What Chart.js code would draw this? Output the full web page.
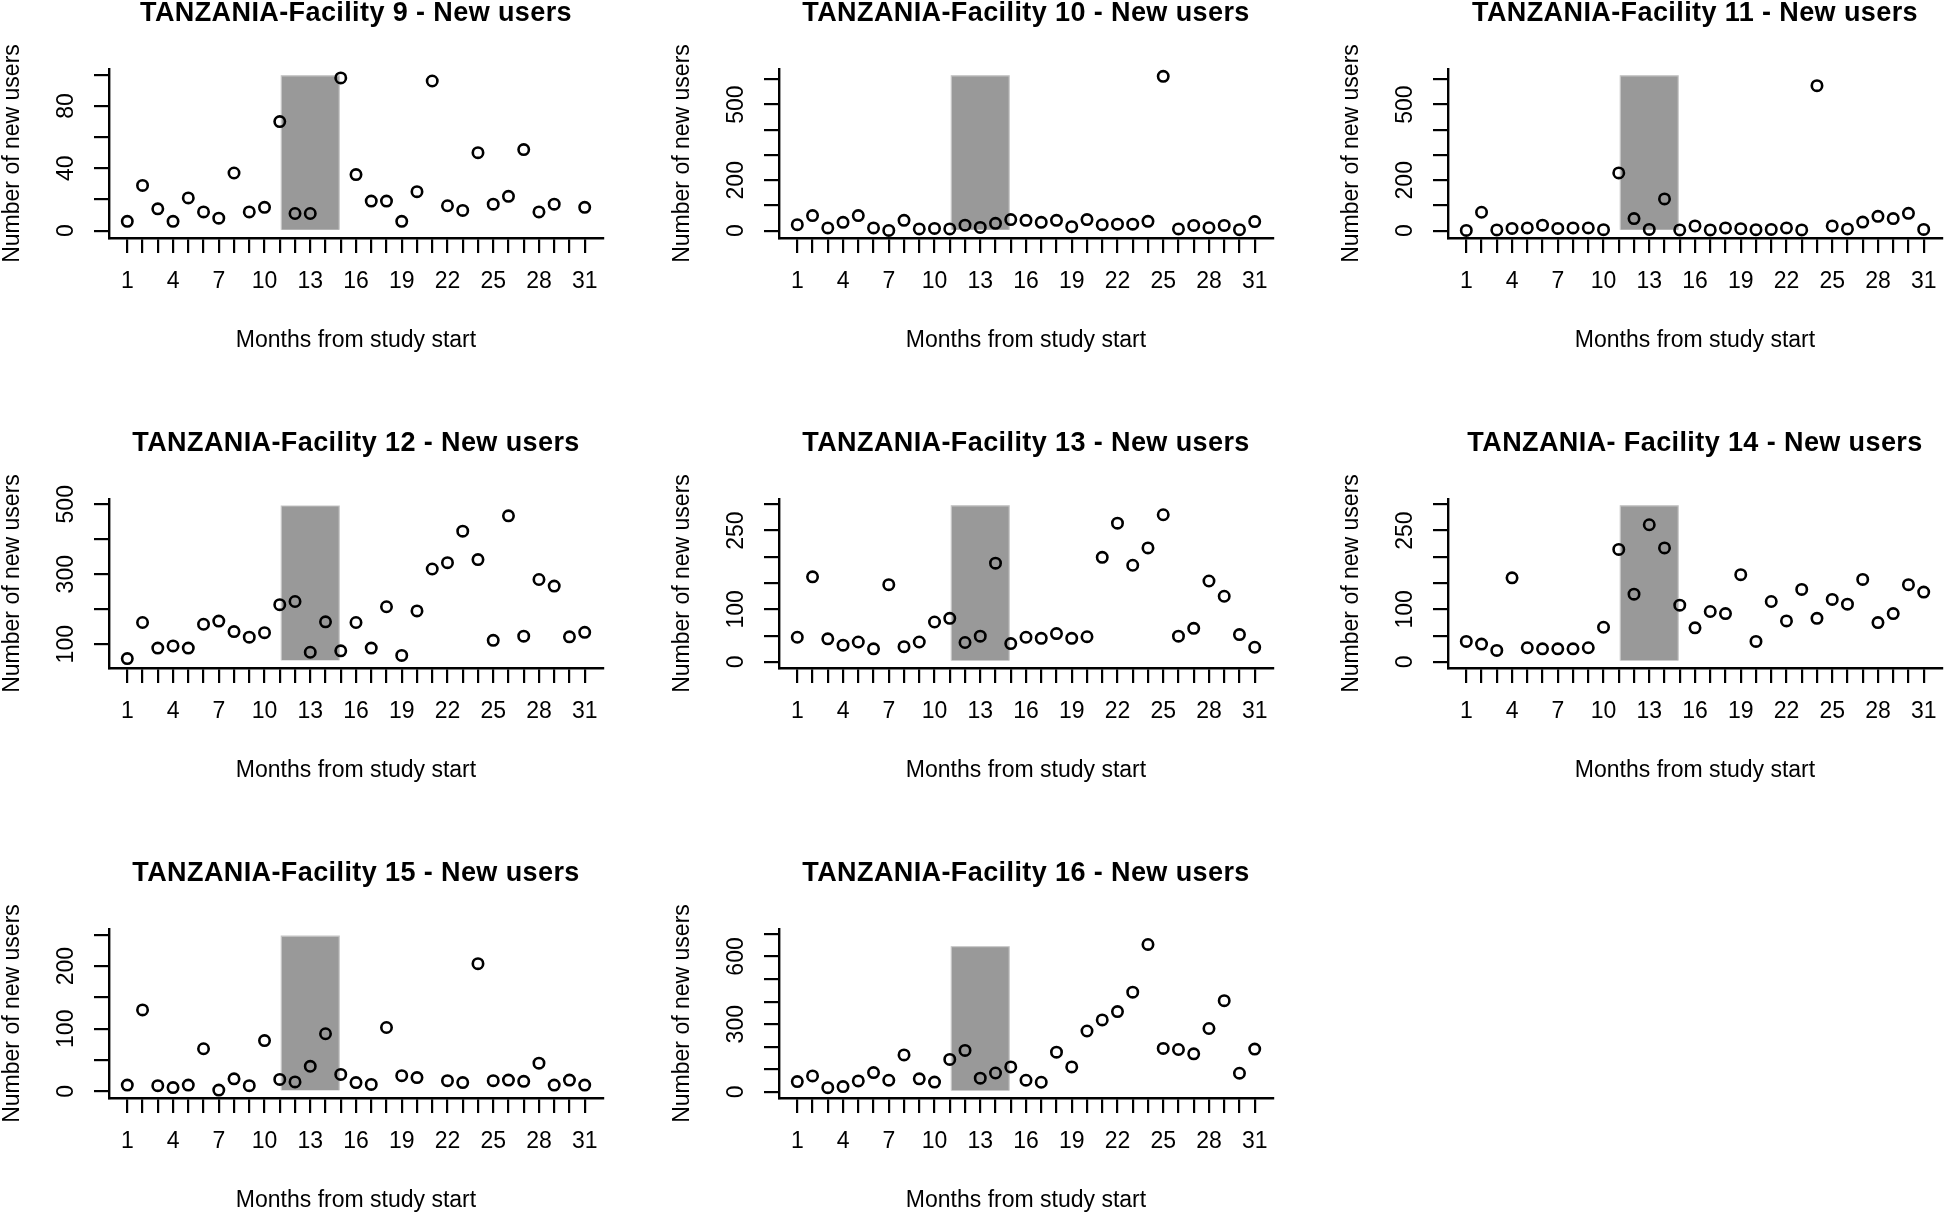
<!DOCTYPE html>
<html>
<head>
<meta charset="utf-8">
<title>Tanzania facilities - new users</title>
<script src="https://cdn.jsdelivr.net/npm/chart.js@4.4.1/dist/chart.umd.min.js"></script>
<style>
  html, body { margin: 0; padding: 0; background: #fff; }
  body { width: 1944px; height: 1213px; overflow: hidden; position: relative; }
  canvas { position: absolute; }
</style>
</head>
<body>
<script>
// months on the x axis and the ones that get a label
const months = [1, 2, 3, 4, 5, 6, 7, 8, 9, 10, 11, 12, 13, 14, 15, 16, 17, 18, 19, 20, 21, 22, 23, 24, 25, 26, 27, 28, 29, 30, 31];
const monthLabels = [1, 4, 7, 10, 13, 16, 19, 22, 25, 28, 31];

const titles = [
  "TANZANIA-Facility 9 - New users",
  "TANZANIA-Facility 10 - New users",
  "TANZANIA-Facility 11 - New users",
  "TANZANIA-Facility 12 - New users",
  "TANZANIA-Facility 13 - New users",
  "TANZANIA- Facility 14 - New users",
  "TANZANIA-Facility 15 - New users",
  "TANZANIA-Facility 16 - New users"
];

// new users per month (null = no value)
const facility9  = [6, 29, 14, 6, 21, 12, 8, 37, 12, 15, 70, 11, 11, null, 98, 36, 19, 19, 6, 25, 96, 16, 13, 50, 17, 22, 52, 12, 17, null, 15];
const facility10 = [24, 60, 11, 33, 60, 11, 1, 41, 7, 9, 7, 22, 13, 29, 44, 41, 33, 41, 16, 44, 24, 26, 26, 37, 612, 7, 21, 12, 21, 4, 36];
const facility11 = [1, 73, 3, 9, 11, 22, 9, 11, 11, 4, 229, 48, 5, 126, 3, 19, 3, 11, 8, 4, 5, 11, 3, 575, 19, 7, 34, 57, 48, 69, 5];
const facility12 = [59, 162, 89, 95, 89, 157, 166, 136, 120, 133, 213, 222, 77, 164, 81, 162, 89, 207, 68, 195, 315, 333, 423, 342, 111, 467, 123, 285, 266, 121, 134];
const facility13 = [47, 162, 44, 32, 38, 25, 147, 29, 38, 76, 83, 37, 49, 188, 35, 47, 45, 54, 45, 48, 199, 264, 184, 217, 280, 49, 64, 154, 125, 52, 28];
const facility14 = [39, 34, 22, 160, 27, 25, 25, 25, 27, 66, 214, 129, 261, 217, 108, 65, 96, 92, 166, 39, 115, 78, 138, 83, 119, 110, 157, 75, 92, 147, 133];
const facility15 = [10, 130, 9, 6, 10, 68, 2, 20, 9, 81, 19, 15, 40, 92, 27, 14, 11, 102, 25, 22, null, 17, 14, 204, 17, 18, 16, 45, 10, 18, 10];
const facility16 = [46, 71, 19, 24, 49, 86, 52, 164, 58, 44, 144, 184, 61, 84, 111, 52, 43, 176, 111, 270, 319, 356, 442, 653, 193, 188, 169, 281, 404, 83, 190];
const series = [facility9, facility10, facility11, facility12, facility13, facility14, facility15, facility16];

// y axis: limits, tick marks, labelled ticks
const yLimits = [[-4.7, 103.7], [-29, 641], [-29, 641], [32, 515], [-11.5, 310], [-11.5, 310], [-10.7, 259.4], [-26.7, 721.5]];
const yTicks = [
  [0, 20, 40, 60, 80, 100],
  [0, 100, 200, 300, 400, 500, 600],
  [0, 100, 200, 300, 400, 500, 600],
  [100, 200, 300, 400, 500],
  [0, 50, 100, 150, 200, 250, 300],
  [0, 50, 100, 150, 200, 250, 300],
  [0, 50, 100, 150, 200, 250],
  [0, 100, 200, 300, 400, 500, 600, 700]
];
const yLabels = [[0, 40, 80], [0, 200, 500], [0, 200, 500], [100, 300, 500], [0, 100, 250], [0, 100, 250], [0, 100, 200], [0, 300, 600]];

// shaded period: months and vertical extent per panel
const shadeMonths = [11.1, 14.9];
const shadeRange = [[0.6, 99.3], [4, 614], [4, 614], [54, 495], [3, 297], [3, 297], [1.6, 248], [7, 643]];

const FONT = '"Liberation Sans", Arial, Helvetica, sans-serif';
Chart.defaults.font.family = FONT;
Chart.defaults.color = "#000";

const plotLeft = [109, 779, 1448];
const plotTop = [69, 499, 929];
const plotW = 494, plotH = 169;
const padL = 115, padT = 75, padR = 20, padB = 131;

// title and rotated y labels (R style)
const panelText = {
    id: "panelText",
    afterDraw(chart, args, opts) {
        const ctx = chart.ctx;
        const area = chart.chartArea;
        ctx.save();
        ctx.fillStyle = "#000";
        ctx.textAlign = "center";
        ctx.textBaseline = "middle";
        ctx.font = "bold 27px " + FONT;
        ctx.letterSpacing = "0.4px";
        ctx.fillText(opts.title, (area.left + area.right) / 2, area.top - 55.5);
        ctx.letterSpacing = "0px";
        ctx.font = "23px " + FONT;
        opts.labels.forEach(v => {
            const y = chart.scales.y.getPixelForValue(v);
            ctx.save();
            ctx.translate(area.left - 42, y);
            ctx.rotate(-Math.PI / 2);
            ctx.fillText(String(v), 0, 0);
            ctx.restore();
        });
        ctx.restore();
    }
};

function makePanel(i) {
    const col = i % 3, row = Math.floor(i / 3);
    const cw = padL + plotW + padR, ch = padT + plotH + padB;
    const canvas = document.createElement("canvas");
    canvas.width = cw;
    canvas.height = ch;
    canvas.style.width = cw + "px";
    canvas.style.height = ch + "px";
    canvas.style.left = (plotLeft[col] - padL) + "px";
    canvas.style.top = (plotTop[row] - padT) + "px";
    document.body.appendChild(canvas);

    const vals = series[i];
    const shade = shadeRange[i];

    new Chart(canvas, {
        data: {
            datasets: [
                {
                    type: "scatter",
                    data: months.map((m, k) => ({x: m, y: vals[k]})),
                    pointStyle: "circle",
                    pointRadius: 5.2,
                    pointBorderWidth: 2.6,
                    pointBorderColor: "#000",
                    pointBackgroundColor: "rgba(0,0,0,0)",
                    order: 0
                },
                {
                    type: "line",
                    data: [
                        {x: shadeMonths[0], y: shade[0]},
                        {x: shadeMonths[0], y: shade[1]},
                        {x: shadeMonths[1], y: shade[1]},
                        {x: shadeMonths[1], y: shade[0]}
                    ],
                    fill: {value: shade[0]},
                    backgroundColor: "#999999",
                    borderColor: "#c4c4c4",
                    borderWidth: 1.2,
                    pointRadius: 0,
                    tension: 0,
                    order: 1
                }
            ]
        },
        options: {
            responsive: false,
            animation: false,
            devicePixelRatio: 1,
            events: [],
            layout: {padding: {left: 0, top: padT, right: padR, bottom: 0}},
            plugins: {
                legend: {display: false},
                tooltip: {enabled: false},
                title: {display: false},
                panelText: {title: titles[i], labels: yLabels[i]}
            },
            scales: {
                x: {
                    type: "linear",
                    min: -0.2,
                    max: 32.2,
                    afterBuildTicks: axis => { axis.ticks = months.map(v => ({value: v})); },
                    afterFit: axis => { axis.height = padB; },
                    ticks: {
                        autoSkip: false,
                        maxRotation: 0,
                        minRotation: 0,
                        padding: 14.5,
                        font: {size: 23},
                        color: "#000",
                        callback: v => monthLabels.includes(v) ? String(v) : ""
                    },
                    grid: {drawOnChartArea: false, drawTicks: true, tickLength: 15, color: "#000", lineWidth: 2.2},
                    border: {display: true, color: "#000", width: 2.4},
                    title: {display: true, text: "Months from study start", font: {size: 23}, color: "#000", padding: {top: 0, bottom: 15}}
                },
                y: {
                    type: "linear",
                    min: yLimits[i][0],
                    max: yLimits[i][1],
                    afterBuildTicks: axis => { axis.ticks = yTicks[i].map(v => ({value: v})); },
                    afterFit: axis => { axis.width = padL; },
                    ticks: {display: false},
                    grid: {drawOnChartArea: false, drawTicks: true, tickLength: 15, color: "#000", lineWidth: 2.2},
                    border: {display: true, color: "#000", width: 2.4},
                    title: {display: true, text: "Number of new users", font: {size: 23}, color: "#000", padding: {top: 4.7, bottom: 0}}
                }
            }
        },
        plugins: [panelText]
    });
}

for (let i = 0; i < series.length; i++) makePanel(i);
</script>
</body>
</html>
